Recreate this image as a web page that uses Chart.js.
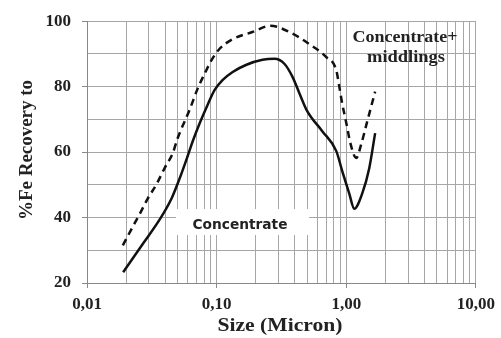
<!DOCTYPE html>
<html lang="en">
<head>
<meta charset="UTF-8">
<title>Fe Recovery vs Size</title>
<script src="https://cdn.jsdelivr.net/npm/chart.js"></script>
<style>
    body { margin: 0; background: #fff; }
    #chart-container { width: 501px; height: 338px; position: relative; }
</style>
</head>
<body>
<div id="chart-container">
    <canvas id="recoveryChart"></canvas>
</div>
<script>
// Concentrate (solid)
const concSize = [0.019, 0.027, 0.0365, 0.0451, 0.0519, 0.0598, 0.0654, 0.074, 0.0853, 0.0966, 0.111, 0.133,
                  0.170, 0.226, 0.279, 0.333, 0.385, 0.435, 0.500, 0.653, 0.838, 0.931, 1.055, 1.153,
                  1.327, 1.503, 1.671];
const concRec  = [23.3, 32, 39.5, 46, 52, 58.8, 63.3, 68.8, 74.5, 79, 82, 84.5,
                  86.7, 88.2, 88.5, 87, 83, 78, 72.5, 66.4, 60.3, 54.2, 47.3, 42.7,
                  47.3, 55, 65.8];

// Concentrate + middlings (dashed)
const midSize = [0.0189, 0.0222, 0.0256, 0.0294, 0.0345, 0.0398, 0.0459, 0.0501, 0.062, 0.0714, 0.0809, 0.0916,
                 0.105, 0.133, 0.189, 0.260, 0.365, 0.519, 0.702, 0.838, 0.884, 0.931, 1.000, 1.080,
                 1.194, 1.304, 1.452, 1.671];
const midRec  = [31.5, 36.7, 41.2, 45.8, 50.3, 55.2, 59.7, 64.3, 73, 79.4, 84, 88.2,
                 91.5, 94.5, 96.7, 98.6, 96.7, 93, 89, 85, 80, 74.8, 69, 62.5,
                 58.2, 62.4, 69.4, 78.5];

// axes
const xMajor = [0.01, 0.1, 1, 10];
const xLabels = ['0,01', '0,10', '1,00', '10,00'];
const yMin = 20, yMax = 100, yStep = 10, yLabelStep = 20;

const serif = "'Liberation Serif', 'Times New Roman', serif";

// log grid: 1..9 in every decade
const xGrid = [];
for (let d = 0; d < xMajor.length - 1; d++) {
    for (let m = 1; m < 10; m++) xGrid.push(+(xMajor[d] * m).toPrecision(3));
}
xGrid.push(xMajor[xMajor.length - 1]);

function toPoints(xs, ys) {
    return xs.map((x, i) => ({ x: x, y: ys[i] }));
}

// draw text squeezed/stretched to a given width
function fitText(ctx, text, cx, cy, font, width) {
    ctx.save();
    ctx.font = font;
    const w = ctx.measureText(text).width;
    ctx.translate(cx, cy);
    ctx.scale(width / w, 1);
    ctx.textAlign = 'center';
    ctx.textBaseline = 'middle';
    ctx.fillText(text, 0, 0);
    ctx.restore();
}

const labelPlugin = {
    id: 'labels',
    beforeDatasetsDraw(chart) {
        const ctx = chart.ctx;
        // white box behind "Concentrate"
        ctx.save();
        ctx.fillStyle = '#fff';
        ctx.fillRect(176, 209, 133, 26);
        ctx.fillStyle = '#222';
        fitText(ctx, 'Concentrate', 240, 225, "bold 14px 'DejaVu Sans', sans-serif", 95);
        ctx.restore();
    },
    afterDraw(chart) {
        const ctx = chart.ctx;
        ctx.save();
        ctx.fillStyle = '#222';
        fitText(ctx, 'Concentrate+', 405, 38, 'bold 16px ' + serif, 105);
        fitText(ctx, 'middlings', 406, 58, 'bold 16px ' + serif, 78);
        fitText(ctx, 'Size (Micron)', 280, 326, 'bold 18px ' + serif, 125);
        ctx.translate(27, 150);
        ctx.rotate(-Math.PI / 2);
        fitText(ctx, '%Fe Recovery to', 0, 0, 'bold 18px ' + serif, 140);
        ctx.restore();
    }
};

const ctx = document.getElementById('recoveryChart').getContext('2d');
new Chart(ctx, {
    type: 'line',
    data: {
        datasets: [{
            label: 'Concentrate',
            data: toPoints(concSize, concRec),
            borderColor: '#111',
            borderWidth: 2.5,
            pointRadius: 0,
            cubicInterpolationMode: 'monotone',
            fill: false
        }, {
            label: 'Concentrate+ middlings',
            data: toPoints(midSize, midRec),
            borderColor: '#111',
            borderWidth: 2.5,
            borderDash: [7, 5],
            pointRadius: 0,
            cubicInterpolationMode: 'monotone',
            fill: false
        }]
    },
    options: {
        responsive: true,
        maintainAspectRatio: false,
        animation: false,
        layout: { padding: { top: 19, right: 23, left: 0, bottom: 0 } },
        plugins: {
            legend: { display: false },
            tooltip: { enabled: false }
        },
        scales: {
            x: {
                type: 'logarithmic',
                min: xMajor[0],
                max: xMajor[xMajor.length - 1],
                afterBuildTicks: scale => {
                    scale.ticks = xGrid.map(v => ({ value: v }));
                },
                afterFit: scale => { scale.height = 55; },
                ticks: {
                    autoSkip: false,
                    maxRotation: 0,
                    padding: 6,
                    color: '#222',
                    font: { family: serif, size: 17, weight: 'bold' },
                    callback: v => {
                        const i = xMajor.findIndex(m => Math.abs(m - v) < m * 1e-6);
                        return i >= 0 ? xLabels[i] : '';
                    }
                },
                grid: {
                    color: '#a6a6a6',
                    lineWidth: 1,
                    tickLength: 5,
                    tickColor: c => xMajor.some(m => Math.abs(m - c.tick.value) < m * 1e-6) ? '#888' : 'transparent'
                },
                border: { color: '#888' }
            },
            y: {
                min: yMin,
                max: yMax,
                afterFit: scale => { scale.width = 87; },
                ticks: {
                    stepSize: yStep,
                    padding: 11,
                    color: '#222',
                    font: { family: serif, size: 17, weight: 'bold' },
                    callback: v => (v % yLabelStep === 0 ? v : '')
                },
                grid: {
                    color: '#a6a6a6',
                    lineWidth: 1,
                    tickLength: 5,
                    tickColor: c => (c.tick.value % yLabelStep === 0 ? '#888' : 'transparent')
                },
                border: { color: '#888' }
            }
        }
    },
    plugins: [labelPlugin]
});
</script>
</body>
</html>
